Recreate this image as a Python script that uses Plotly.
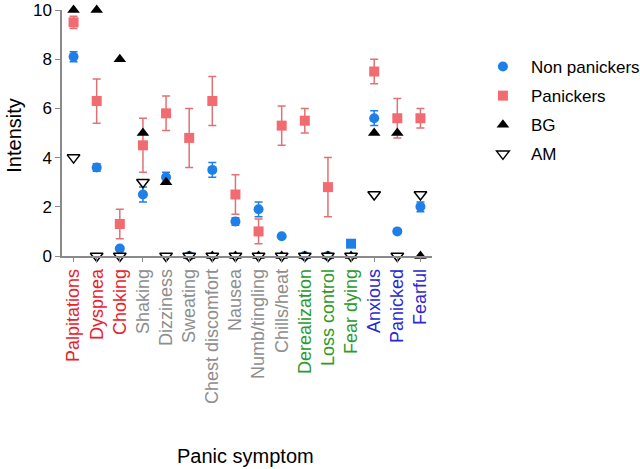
import plotly.graph_objects as go

symptoms = ["Palpitations", "Dyspnea", "Choking", "Shaking", "Dizziness", "Sweating",
            "Chest discomfort", "Nausea", "Numb/tingling", "Chills/heat", "Derealization",
            "Loss control", "Fear dying", "Anxious", "Panicked", "Fearful"]
label_colors = ["#e8222a"] * 3 + ["#8e8e8e"] * 7 + ["#2b9a2b"] * 3 + ["#2a2ad0"] * 3

non_panickers = [8.1, 3.6, 0.3, 2.5, 3.2, 0.0, 3.5, 1.4, 1.9, 0.8, 0.0, 0.0, 0.5, 5.6, 1.0, 2.0]
non_panickers_err = [0.2, 0.15, 0.0, 0.3, 0.2, 0.0, 0.3, 0.15, 0.3, 0.0, 0.0, 0.0, 0.0, 0.3, 0.0, 0.2]
non_panickers_sym = ["circle"] * 12 + ["square"] + ["circle"] * 3

panickers = [9.5, 6.3, 1.3, 4.5, 5.8, 4.8, 6.3, 2.5, 1.0, 5.3, 5.5, 2.8, None, 7.5, 5.6, 5.6]
panickers_err = [0.25, 0.9, 0.6, 1.1, 0.7, 1.2, 1.0, 0.8, 0.5, 0.8, 0.5, 1.2, 0.0, 0.5, 0.8, 0.4]

bg = [10, 10, 8, 5, 3, 0, 0, 0, 0, 0, 0, 0, 0, 5, 5, 0]
am = [4.0, 0, 0, 3.0, 0, 0, 0, 0, 0, 0, 0, 0, 0, 2.5, 0, 2.5]

blue = "#1f7fe8"
red = "#f26b70"

fig = go.Figure()
fig.add_trace(go.Scatter(
    x=symptoms, y=non_panickers, mode="markers", name="Non panickers",
    legendgroup="a",
    marker=dict(color=blue, size=10, symbol=non_panickers_sym),
    error_y=dict(type="data", array=non_panickers_err, color=blue, thickness=1.5, width=4),
    cliponaxis=False))
fig.add_trace(go.Scatter(
    x=symptoms, y=panickers, mode="markers", name="Panickers",
    legendgroup="b",
    marker=dict(color=red, size=10, symbol="square"),
    error_y=dict(type="data", array=panickers_err, color="#e07276", thickness=1.5, width=4),
    cliponaxis=False))
fig.add_trace(go.Scatter(
    x=symptoms, y=bg, mode="markers", name="BG",
    legendgroup="c",
    marker=dict(color="black", size=11, symbol="triangle-up"),
    cliponaxis=False))
fig.add_trace(go.Scatter(
    x=symptoms, y=am, mode="markers", name="AM",
    legendgroup="d",
    marker=dict(color="white", size=11, symbol="triangle-down",
                line=dict(color="black", width=1.5)),
    cliponaxis=False))

ticktext = [f"<span style='color:{c}'>{s}</span>" for s, c in zip(symptoms, label_colors)]

fig.update_layout(
    width=640, height=469,
    margin=dict(l=62, r=208, t=10, b=213, autoexpand=False),
    paper_bgcolor="white", plot_bgcolor="white",
    font=dict(family="Liberation Sans, Arial, sans-serif", color="black"),
    showlegend=True,
    legend=dict(x=1.116, y=0.8415, xanchor="left", yanchor="top",
                font=dict(size=17, color="black"), tracegroupgap=4, itemwidth=46,
                bgcolor="rgba(0,0,0,0)"),
    xaxis=dict(type="category", categoryorder="array", categoryarray=symptoms,
               range=[-0.5, 15.5], tickmode="array", tickvals=symptoms, ticktext=ticktext,
               tickangle=-90, tickfont=dict(size=18), automargin=False,
               showline=True, linecolor="#8a8a8a", linewidth=1.5,
               ticks="outside", ticklen=4, tickcolor="#8a8a8a", showgrid=False,
               zeroline=False),
    yaxis=dict(range=[0, 10], tickvals=[0, 2, 4, 6, 8, 10], tickfont=dict(size=17),
               ticklabeloverflow="allow", automargin=False,
               showline=True, linecolor="#8a8a8a", linewidth=1.5,
               ticks="outside", ticklen=5, tickcolor="#8a8a8a", showgrid=False,
               zeroline=False),
    annotations=[
        dict(text="Panic symptom", xref="paper", yref="paper", x=0.495, y=-0.813,
             xanchor="center", yanchor="middle", showarrow=False,
             font=dict(size=20, color="black")),
        dict(text="Intensity", xref="paper", yref="paper", x=-0.129, y=0.49,
             xanchor="center", yanchor="middle", showarrow=False, textangle=-90,
             font=dict(size=20, color="black")),
    ],
)

fig.write_html("out.html", config={"displayModeBar": False},
               post_script="document.body.style.margin='0';document.body.style.overflow='hidden';")
